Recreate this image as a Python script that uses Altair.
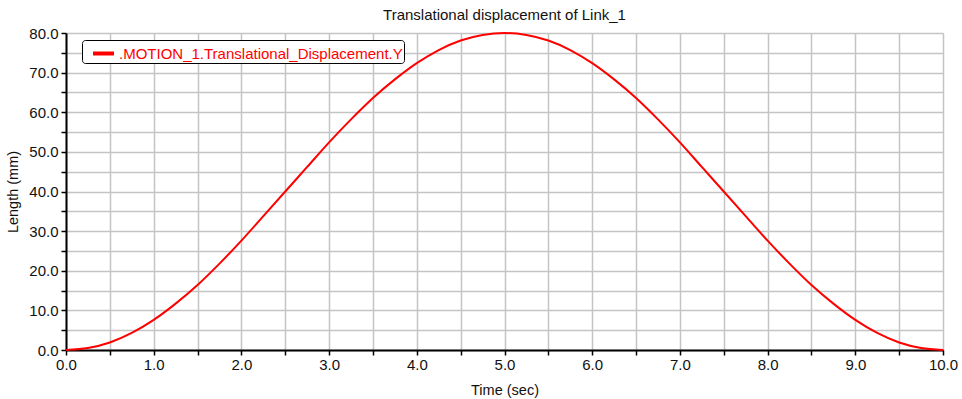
import altair as alt
import pandas as pd

# Time (sec) and displacement (mm)
time_s = [0.0, 0.25, 0.5, 0.75, 1.0, 1.25, 1.5, 1.75, 2.0, 2.25, 2.5, 2.75, 3.0, 3.25, 3.5,
          3.75, 4.0, 4.25, 4.5, 4.75, 5.0, 5.25, 5.5, 5.75, 6.0, 6.25, 6.5, 6.75, 7.0,
          7.25, 7.5, 7.75, 8.0, 8.25, 8.5, 8.75, 9.0, 9.25, 9.5, 9.75, 10.0]
length_mm = [0.0, 0.5, 1.9, 4.3, 7.6, 11.7, 16.4, 21.8, 27.6, 33.8, 40.0, 46.2, 52.4, 58.2, 63.6,
             68.3, 72.4, 75.7, 78.1, 79.5, 80.0, 79.5, 78.1, 75.7, 72.4, 68.3, 63.6, 58.2, 52.4,
             46.2, 40.0, 33.8, 27.6, 21.8, 16.4, 11.7, 7.6, 4.3, 1.9, 0.5, 0.0]
series_name = ".MOTION_1.Translational_Displacement.Y"

x_ticks = [0.0, 0.5, 1.0, 1.5, 2.0, 2.5, 3.0, 3.5, 4.0, 4.5, 5.0, 5.5, 6.0, 6.5, 7.0,
           7.5, 8.0, 8.5, 9.0, 9.5, 10.0]
y_ticks = [0, 5, 10, 15, 20, 25, 30, 35, 40, 45, 50, 55, 60, 65, 70, 75, 80]

df = pd.DataFrame({"t": time_s, "y": length_mm, "series": series_name})

FONT = "Liberation Sans"

line = alt.Chart(df).mark_line(color="#ff0000", strokeWidth=2, interpolate="monotone").encode(
    x=alt.X("t:Q",
            scale=alt.Scale(domain=[0, 10], nice=False),
            axis=alt.Axis(values=x_ticks, title="Time (sec)",
                          labelExpr="datum.value % 1 == 0 ? format(datum.value, '.1f') : ''",
                          labelFlush=False,
                          grid=True, gridColor="#c4c4c4", gridWidth=1.5,
                          domainColor="#000000", domainWidth=2,
                          tickColor="#000000", tickSize=5, tickWidth=1.5,
                          labelFont=FONT, labelFontSize=15, labelColor="#111111",
                          labelPadding=2, titleFont=FONT, titleFontSize=14.5,
                          titleFontWeight="normal", titleColor="#111111", titlePadding=11)),
    y=alt.Y("y:Q",
            scale=alt.Scale(domain=[0, 80], nice=False),
            axis=alt.Axis(values=y_ticks, title="Length (mm)",
                          labelExpr="datum.value % 10 == 0 ? format(datum.value, '.1f') : ''",
                          labelFlush=False,
                          grid=True, gridColor="#c4c4c4", gridWidth=1.5,
                          domainColor="#000000", domainWidth=2,
                          tickColor="#000000", tickSize=5, tickWidth=1.5,
                          labelFont=FONT, labelFontSize=15, labelColor="#111111",
                          labelPadding=3, titleFont=FONT, titleFontSize=14.5,
                          titleFontWeight="normal", titleColor="#111111", titlePadding=8)),
    stroke=alt.Stroke("series:N",
                      scale=alt.Scale(range=["#ff0000"]),
                      legend=alt.Legend(title=None, orient="none", legendX=16, legendY=7,
                                        symbolType="stroke", symbolStrokeWidth=4,
                                        symbolSize=441, symbolOffset=8,
                                        labelColor="#ff0000",
                                        labelFont=FONT, labelFontSize=15, labelLimit=500,
                                        labelOffset=3, padding=1,
                                        strokeColor="#000000", fillColor="#ffffff",
                                        cornerRadius=3)),
)

chart = line.properties(
    width=877,
    height=317,
    title=alt.TitleParams("Translational displacement of Link_1", font=FONT, fontSize=15,
                          fontWeight="normal", color="#111111", offset=3),
    autosize=alt.AutoSizeParams(type="none"),
    padding={"left": 66, "top": 33, "right": 19, "bottom": 49},
).configure_view(
    stroke="#000000", strokeWidth=1.5
).configure_legend(
    strokeWidth=2
).configure(background="#ffffff")

chart.save("out.html", embed_options={"renderer": "svg", "actions": False})
